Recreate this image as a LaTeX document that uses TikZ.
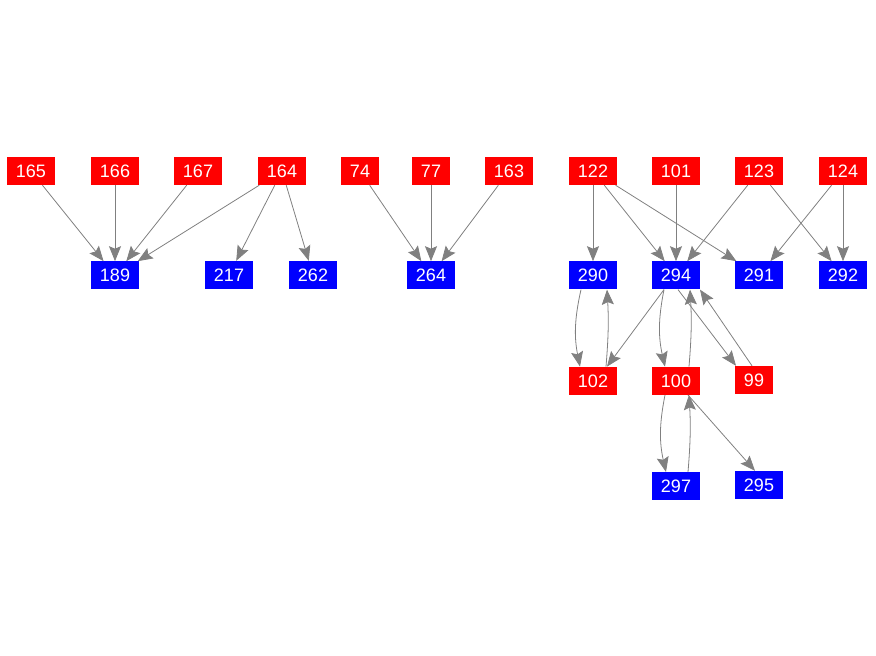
\documentclass[tikz,border=0pt]{standalone}
\usepackage{fontspec}
\setmainfont{Liberation Sans}
\usepackage{tikz}
\usetikzlibrary{arrows.meta,positioning}

\begin{document}
\begin{tikzpicture}[
  x=1pt, y=1pt,
  every node/.style={font=\fontsize{18}{20}\selectfont, text=white},
  src/.style={fill=red, inner xsep=9pt, inner ysep=0pt, minimum height=28pt},
  dst/.style={fill=blue, inner xsep=9pt, inner ysep=0pt, minimum height=28pt},
  edge/.style={draw=gray, line width=0.8pt, -{Stealth[length=15pt,width=12pt,inset=2.5pt]}},
  node distance=76pt
]
\useasboundingbox (0,0) rectangle (876,-656);

% sources, top row
\node[src] (165) at (31,-171) {165};
\node[src] (166) at (115,-171) {166};
\node[src] (167) at (198,-171) {167};
\node[src] (164) at (282,-171) {164};
\node[src] (74) at (360,-171) {74};
\node[src] (77) at (431,-171) {77};
\node[src] (163) at (509,-171) {163};
\node[src] (122) at (593,-171) {122};
\node[src] (101) at (676,-171) {101};
\node[src] (123) at (759,-171) {123};
\node[src] (124) at (843,-171) {124};

% second row
\node[dst, below=of 166] (189) {189};
\node[dst] (217) at (229,-275) {217};
\node[dst] (262) at (313,-275) {262};
\node[dst, below=of 77] (264) {264};
\node[dst, below=of 122] (290) {290};
\node[dst, below=of 101] (294) {294};
\node[dst, below=of 123] (291) {291};
\node[dst, below=of 124] (292) {292};

% third and fourth rows
\node[src, below=77pt of 290] (102) {102};
\node[src, below=77pt of 294] (100) {100};
\node[src] (99) at (754,-380) {99};
\node[dst, below=77pt of 100] (297) {297};
\node[dst] (295) at (759,-485) {295};

\draw[edge] (165) -- (189);
\draw[edge] (166) -- (189);
\draw[edge] (167) -- (189);
\draw[edge] (164) -- (189);
\draw[edge] (164) -- (217);
\draw[edge] (164) -- (262);

\draw[edge] (74) -- (264);
\draw[edge] (77) -- (264);
\draw[edge] (163) -- (264);

\draw[edge] (122) -- (290);
\draw[edge] (122) -- (294);
\draw[edge] (122) -- (291);
\draw[edge] (101) -- (294);
\draw[edge] (123) -- (294);
\draw[edge] (123) -- (292);
\draw[edge] (124) -- (291);
\draw[edge] (124) -- (292);

\draw[edge] ([xshift=-12pt]290.south) to[bend right=12] ([xshift=-13pt]102.north);
\draw[edge] ([xshift=13pt]102.north) to[bend right=4] ([xshift=14pt]290.south);
\draw[edge] ([xshift=-12pt]294.south) -- ([xshift=14pt]102.north);
\draw[edge] ([xshift=-12pt]294.south) to[bend right=12] ([xshift=-11pt]100.north);
\draw[edge] ([xshift=13pt]100.north) to[bend right=4] ([xshift=14pt]294.south);
\draw[edge] ([xshift=2pt]294.south) -- ([xshift=-18pt]99.north);
\draw[edge] ([xshift=-2pt]99.north) -- ([xshift=24pt]294.south);
\draw[edge] ([xshift=-11pt]100.south) to[bend right=12] ([xshift=-10pt]297.north);
\draw[edge] ([xshift=12pt]297.north) to[bend right=4] ([xshift=13pt]100.south);
\draw[edge] ([xshift=12pt]100.south) -- ([xshift=-4pt]295.north);
\end{tikzpicture}
\end{document}
